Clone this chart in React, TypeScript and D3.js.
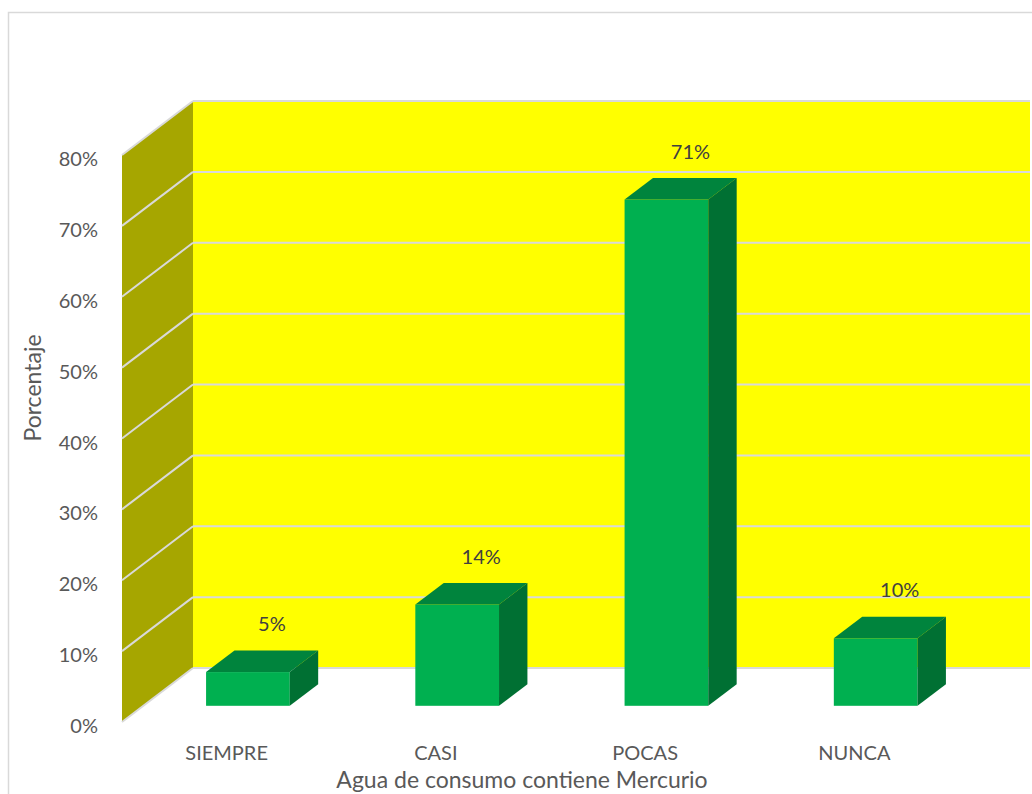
import React from "react";
import * as d3 from "d3";

const categories = ["SIEMPRE", "CASI", "POCAS", "NUNCA"];
const values = [4.76, 14.29, 71.43, 9.52];
const yTicks = [0, 10, 20, 30, 40, 50, 60, 70, 80];
const yTitle = "Porcentaje";
const xTitle = "Agua de consumo contiene Mercurio";

const W = 1032;
const H = 794;
const FONT = "Lato, 'Open Sans', sans-serif";

export default function App() {
  const x0 = 122, x1 = 959;
  const yScale = d3.scaleLinear().domain([0, 80]).range([722, 155]);
  const xScale = d3.scaleBand<string>().domain(categories).range([x0, x1]).paddingInner(0.6).paddingOuter(0.3);
  const xStep = d3.scaleBand<string>().domain(categories).range([x0, x1]);
  const DX = 71, DY = -54;
  const dFront = 0.3, dBack = 0.7;
  const pt = (x: number, y: number, d: number) => [x + DX * d, y + DY * d];
  const poly = (pts: number[][]) => pts.map((p) => p.join(",")).join(" ");
  const y0 = yScale(0), yTop = yScale(80);
  const grid = "#D9D9D9";
  const fmt = d3.format(".0f");

  return (
    <svg width={W} height={H} style={{ position: "absolute", left: 0, top: 0 }} fontFamily={FONT}>
      <rect x={0} y={0} width={W} height={H} fill="#fff" />
      <rect x={8.5} y={12.5} width={W + 20} height={H + 20} fill="none" stroke="#D9D9D9" strokeWidth={1.5} />
      {/* back wall */}
      <rect x={x0 + DX} y={yTop + DY} width={x1 - x0} height={y0 - yTop} fill="#FFFF00" />
      {/* side wall */}
      <polygon points={poly([[x0, y0], [x0, yTop], pt(x0, yTop, 1), pt(x0, y0, 1)])} fill="#A6A600" />
      {/* gridlines */}
      {yTicks.map((t) => {
        const yf = yScale(t);
        const [bx, by] = pt(x0, yf, 1);
        return (
          <g key={t}>
            <line x1={x0} y1={yf} x2={bx} y2={by} stroke={grid} strokeWidth={2} />
            <line x1={bx} y1={by} x2={x1 + DX} y2={by} stroke={grid} strokeWidth={2} />
          </g>
        );
      })}
      {/* tick labels */}
      {yTicks.map((t) => (
        <text key={"t" + t} x={98} y={yScale(t) + 3} textAnchor="end" dominantBaseline="central" fontSize={20} fill="#595959">
          {t + "%"}
        </text>
      ))}
      {/* bars */}
      {categories.map((c, i) => {
        const v = values[i];
        const bx = (xScale(c) as number);
        const bw = xScale.bandwidth();
        const [fx, fyb] = pt(bx, y0, dFront);
        const [, fyt] = pt(bx, yScale(v), dFront);
        const dd = dBack - dFront;
        const ox = DX * dd, oy = DY * dd;
        return (
          <g key={c}>
            <rect x={fx} y={fyt} width={bw} height={fyb - fyt} fill="#00B050" />
            <polygon points={poly([[fx, fyt], [fx + bw, fyt], [fx + bw + ox, fyt + oy], [fx + ox, fyt + oy]])} fill="#00843D" />
            <polygon points={poly([[fx + bw, fyt], [fx + bw + ox, fyt + oy], [fx + bw + ox, fyb + oy], [fx + bw, fyb]])} fill="#007033" />
            <text x={fx + bw / 2 + 24} y={fyt - 49} textAnchor="middle" dominantBaseline="central" fontSize={20} fill="#404040">
              {fmt(v) + "%"}
            </text>
          </g>
        );
      })}
      {/* category labels */}
      {categories.map((c) => (
        <text key={"c" + c} x={(xStep(c) as number) + xStep.bandwidth() / 2} y={760} textAnchor="middle" fontSize={20} fill="#595959">
          {c}
        </text>
      ))}
      <text x={522} y={788} textAnchor="middle" fontSize={23} fill="#595959">{xTitle}</text>
      <text transform="translate(41,388) rotate(-90)" textAnchor="middle" fontSize={23} fill="#595959">{yTitle}</text>
    </svg>
  );
}
